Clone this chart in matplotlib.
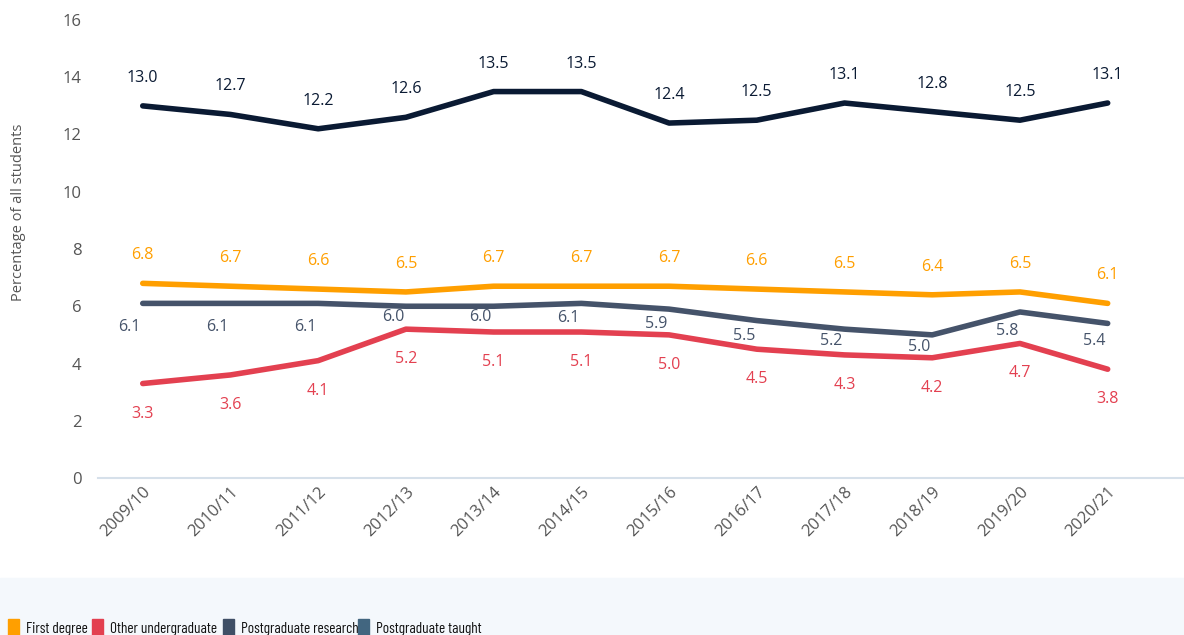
import matplotlib
matplotlib.use("Agg")
import matplotlib.pyplot as plt
from matplotlib.patches import Rectangle

years = ["2009/10", "2010/11", "2011/12", "2012/13", "2013/14", "2014/15",
         "2015/16", "2016/17", "2017/18", "2018/19", "2019/20", "2020/21"]
first_degree = [6.8, 6.7, 6.6, 6.5, 6.7, 6.7, 6.7, 6.6, 6.5, 6.4, 6.5, 6.1]
other_ug = [3.3, 3.6, 4.1, 5.2, 5.1, 5.1, 5.0, 4.5, 4.3, 4.2, 4.7, 3.8]
pg_research = [6.1, 6.1, 6.1, 6.0, 6.0, 6.1, 5.9, 5.5, 5.2, 5.0, 5.8, 5.4]
pg_taught = [13.0, 12.7, 12.2, 12.6, 13.5, 13.5, 12.4, 12.5, 13.1, 12.8, 12.5, 13.1]

legend_names = ["First degree", "Other undergraduate", "Postgraduate research", "Postgraduate taught"]
legend_colors = ["#ff9f00", "#e34050", "#3f4f66", "#426680"]

plt.rcParams["font.family"] = ["Open Sans", "DejaVu Sans"]

W, H = 1184, 635
fig = plt.figure(figsize=(W / 100, H / 100), dpi=100)
fig.patches.append(Rectangle((0, 0), 1, 57 / H, transform=fig.transFigure,
                             color="#f4f8fc", zorder=0))

ax = fig.add_axes([98 / W, 1 - 478 / H, 1 - 98 / W, (478 - 20) / H])
x = list(range(len(years)))

# label offsets in pixels; the research labels get nudged to dodge the other lines
research_dy = [-24, -24, -24, -11, -11, -15, -15, -15, -12, -12, -19, -18]
series = [
    (pg_taught, "#0a1a33", [0] * 12, [28] * 12),
    (first_degree, "#ff9f00", [0] * 12, [28] * 12),
    (pg_research, "#45536a", [-13] * 12, research_dy),
    (other_ug, "#e34050", [0] * 12, [-30] * 12),
]
for vals, col, dxs, dys in series:
    ax.plot(x, vals, color=col, lw=4, solid_capstyle="round", solid_joinstyle="round")
    for xi, v, dx, dy in zip(x, vals, dxs, dys):
        ax.annotate(f"{v:.1f}", (xi, v), xytext=(dx, dy),
                    textcoords="offset pixels", ha="center", va="center",
                    color=col, fontsize=11.5)

ax.set_xlim(-0.51, 11.87)
ax.set_ylim(0, 16)
ax.set_yticks(range(0, 17, 2))
ax.set_xticks(x)
ax.set_xticklabels(years, rotation=45, ha="right", va="top", rotation_mode="anchor")
ax.tick_params(axis="both", length=0, labelsize=12, labelcolor="#555555")
ax.tick_params(axis="y", pad=12)
ax.tick_params(axis="x", pad=4)
for s in ["top", "right", "left"]:
    ax.spines[s].set_visible(False)
ax.spines["bottom"].set_color("#d6e0ea")
ax.spines["bottom"].set_linewidth(1.5)
ax.set_ylabel("Percentage of all students", fontsize=10.5, color="#555555")
ax.yaxis.set_label_coords(-0.066, 0.58)

sq_x = [8, 92, 223, 358]
for name, col, px in zip(legend_names, legend_colors, sq_x):
    fig.patches.append(Rectangle((px / W, 0), 11 / W, 16 / H, transform=fig.transFigure,
                                 color=col, zorder=2))
    fig.text((px + 18) / W, 1 - 629 / H, name, fontsize=11, color="#111111",
             va="center", ha="left",
             family=["Barlow Condensed", "Liberation Sans Narrow", "DejaVu Sans"])

fig.savefig("out.png", dpi=100)
